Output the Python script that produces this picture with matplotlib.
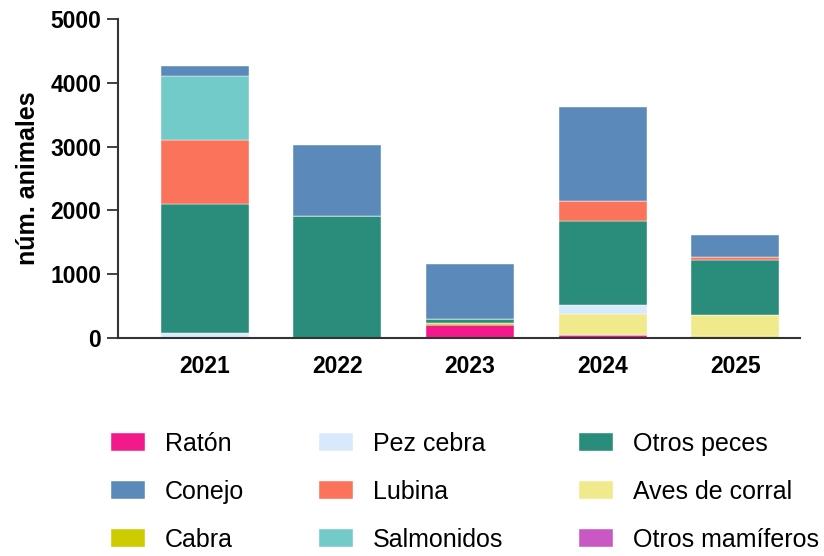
import numpy as np
import matplotlib.pyplot as plt

plt.rcParams['font.family'] = ['Liberation Sans', 'DejaVu Sans']

years = ['2021', '2022', '2023', '2024', '2025']

raton          = [0, 0, 210, 40, 15]
otros_mamif    = [0, 0, 0, 0, 0]
cabra          = [0, 0, 30, 0, 20]
aves           = [0, 0, 0, 330, 330]
pez_cebra      = [75, 0, 0, 140, 0]
otros_peces    = [2025, 1912, 55, 1320, 855]
lubina         = [1003, 0, 0, 315, 50]
salmonidos     = [1000, 0, 0, 0, 0]
conejo         = [157, 1112, 865, 1475, 345]

# stacking order bottom -> top
series = [
    ('Ratón',           raton,       '#f21a8a'),
    ('Otros mamíferos', otros_mamif, '#c957c4'),
    ('Cabra',           cabra,       '#cccc00'),
    ('Aves de corral',  aves,        '#f0ea8c'),
    ('Pez cebra',       pez_cebra,   '#d8e9fb'),
    ('Otros peces',     otros_peces, '#2a8c7a'),
    ('Lubina',          lubina,      '#fc735b'),
    ('Salmonidos',      salmonidos,  '#73cbc9'),
    ('Conejo',          conejo,      '#5b8aba'),
]

fig = plt.figure(figsize=(8.24, 5.56), dpi=100)
ax = fig.add_axes([0.143, 0.392, 0.828, 0.574])

x = np.arange(len(years))
bottom = np.zeros(len(years))
handles = {}
for name, vals, col in series:
    vals = np.array(vals, dtype=float)
    b = ax.bar(x, vals, 0.664, bottom=bottom, color=col, label=name,
               edgecolor='white', linewidth=0.3)
    handles[name] = b
    bottom += vals

ax.set_xlim(-0.657, 4.49)
ax.set_ylim(0, 5000)
ax.set_yticks([0, 1000, 2000, 3000, 4000, 5000])
ax.set_xticks(x)
ax.set_xticklabels(years, fontsize=16.5, fontweight='bold')
ax.tick_params(axis='x', length=0, pad=12)
ax.tick_params(axis='y', length=8, width=1.3, labelsize=16.5, pad=4, color='#333333')
for lab in ax.get_yticklabels():
    lab.set_fontweight('bold')
ax.set_ylabel('núm. animales', fontsize=18, fontweight='bold', labelpad=7)

for s in ['top', 'right']:
    ax.spines[s].set_visible(False)
for s in ['left', 'bottom']:
    ax.spines[s].set_linewidth(1.5)
    ax.spines[s].set_color('#333333')

order = ['Ratón', 'Conejo', 'Cabra',
         'Pez cebra', 'Lubina', 'Salmonidos',
         'Otros peces', 'Aves de corral', 'Otros mamíferos']
fig.legend([handles[n] for n in order], order, ncol=3, loc='center',
           bbox_to_anchor=(0.564, 0.115), frameon=False, fontsize=18,
           handlelength=1.36, handleheight=0.72, handletextpad=0.8,
           columnspacing=3.0, labelspacing=0.96)

plt.savefig('out.png', dpi=100)
